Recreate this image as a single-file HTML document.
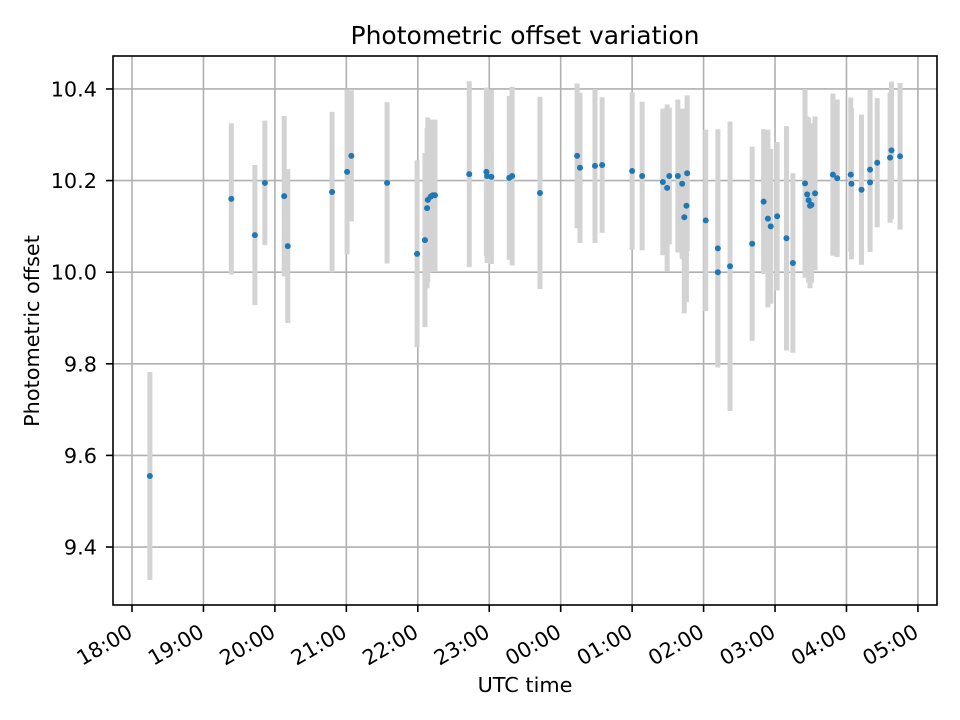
<!DOCTYPE html>
<html><head><meta charset="utf-8"><style>
body{margin:0;background:#fff}
svg{display:block;font-family:"DejaVu Sans","Liberation Sans",sans-serif}
</style></head><body>
<svg id="chart" width="960" height="720" viewBox="0 0 960 720">
<rect width="960" height="720" fill="#fff"/>
<text x="525" y="44" font-size="25" text-anchor="middle">Photometric offset variation</text>
<text x="525" y="692" font-size="20.8" text-anchor="middle">UTC time</text>
<text x="39" y="331" font-size="20.8" text-anchor="middle" transform="rotate(-90 39 331)">Photometric offset</text>
<g id="grid"></g><g id="errs"></g><g id="pts"></g><g id="axes"></g>
</svg>
<script>
// hours since 18:00 UTC
const times=[0.25,1.39,1.72,1.86,2.13,2.18,2.80,3.01,3.07,3.57,3.99,4.10,4.13,4.14,4.18,4.21,4.24,4.72,4.96,4.97,5.03,5.28,5.32,5.71,6.23,6.27,6.48,6.58,7.00,7.14,7.43,7.49,7.52,7.64,7.70,7.73,7.76,7.77,8.03,8.20,8.20,8.37,8.68,8.84,8.90,8.94,9.03,9.16,9.25,9.42,9.45,9.47,9.49,9.51,9.56,9.81,9.87,10.06,10.07,10.21,10.33,10.33,10.43,10.61,10.63,10.75];
const offsets=[9.555,10.16,10.081,10.195,10.166,10.057,10.175,10.219,10.254,10.195,10.04,10.07,10.14,10.158,10.165,10.168,10.168,10.214,10.219,10.21,10.208,10.206,10.21,10.173,10.254,10.228,10.232,10.234,10.221,10.21,10.197,10.184,10.21,10.21,10.193,10.12,10.145,10.216,10.113,10.052,10.0,10.013,10.062,10.154,10.117,10.1,10.122,10.074,10.02,10.194,10.17,10.157,10.145,10.147,10.172,10.213,10.205,10.213,10.193,10.18,10.224,10.196,10.239,10.25,10.266,10.253];
const errors=[0.227,0.165,0.153,0.136,0.175,0.168,0.175,0.18,0.143,0.176,0.204,0.19,0.175,0.18,0.165,0.165,0.165,0.203,0.184,0.19,0.19,0.179,0.195,0.21,0.158,0.164,0.168,0.148,0.172,0.162,0.16,0.182,0.149,0.167,0.164,0.21,0.21,0.17,0.198,0.26,0.2,0.316,0.212,0.158,0.194,0.169,0.162,0.245,0.196,0.206,0.17,0.18,0.18,0.17,0.168,0.177,0.172,0.168,0.165,0.164,0.175,0.152,0.141,0.142,0.15,0.16];
const yTicks=[9.4,9.6,9.8,10.0,10.2,10.4];
const xTickLabels=["18:00","19:00","20:00","21:00","22:00","23:00","00:00","01:00","02:00","03:00","04:00","05:00"];
const L=113,R=937,T=56,B=605;
const xMin=-0.266,xMax=11.267,yMin=9.2734,yMax=10.472;
const X=h=>L+(h-xMin)/(xMax-xMin)*(R-L);
const Y=v=>B-(v-yMin)/(yMax-yMin)*(B-T);
const NS="http://www.w3.org/2000/svg";
function mk(tag,attrs,parent){const e=document.createElementNS(NS,tag);for(const k in attrs)e.setAttribute(k,attrs[k]);parent.appendChild(e);return e;}
const grid=document.getElementById('grid'),errs=document.getElementById('errs'),pts=document.getElementById('pts'),axes=document.getElementById('axes');
yTicks.forEach(v=>{
  const y=Y(v);
  const g=mk('line',{x1:L,x2:R,y1:y,y2:y,stroke:'#b0b0b0','stroke-width':1.6},grid);
  
  
  const t=mk('line',{x1:L-7,x2:L,y1:y,y2:y,stroke:'#000','stroke-width':1.6},axes);
  
  
  const lb=mk('text',{x:L-16,y:y+7.5,'font-size':20.8,'text-anchor':'end'},axes);
  lb.textContent=v.toFixed(1);
  
  
});
xTickLabels.forEach((s,i)=>{
  const x=X(i);
  const g=mk('line',{x1:x,x2:x,y1:T,y2:B,stroke:'#b0b0b0','stroke-width':1.6},grid);
  
  
  const t=mk('line',{x1:x,x2:x,y1:B,y2:B+7,stroke:'#000','stroke-width':1.6},axes);
  
  
  const ax=x+2,ay=B+31;
  const lb=mk('text',{x:ax,y:ay,'font-size':20.8,'text-anchor':'end',transform:`rotate(-30 ${ax} ${ay})`},axes);
  lb.textContent=s;
  
  
});
times.forEach((h,i)=>{
  const x=X(h);
  const e=mk('line',{x1:x,x2:x,y1:Y(offsets[i]+errors[i]),y2:Y(offsets[i]-errors[i]),stroke:'#d3d3d3','stroke-width':5},errs);
  
  
  const c=mk('circle',{cx:x,cy:Y(offsets[i]),r:3,fill:'#1f77b4'},pts);
  
  
});
const fr=mk('rect',{x:L,y:T,width:R-L,height:B-T,fill:'none',stroke:'#000','stroke-width':1.6},axes);


</script>
</body></html>
